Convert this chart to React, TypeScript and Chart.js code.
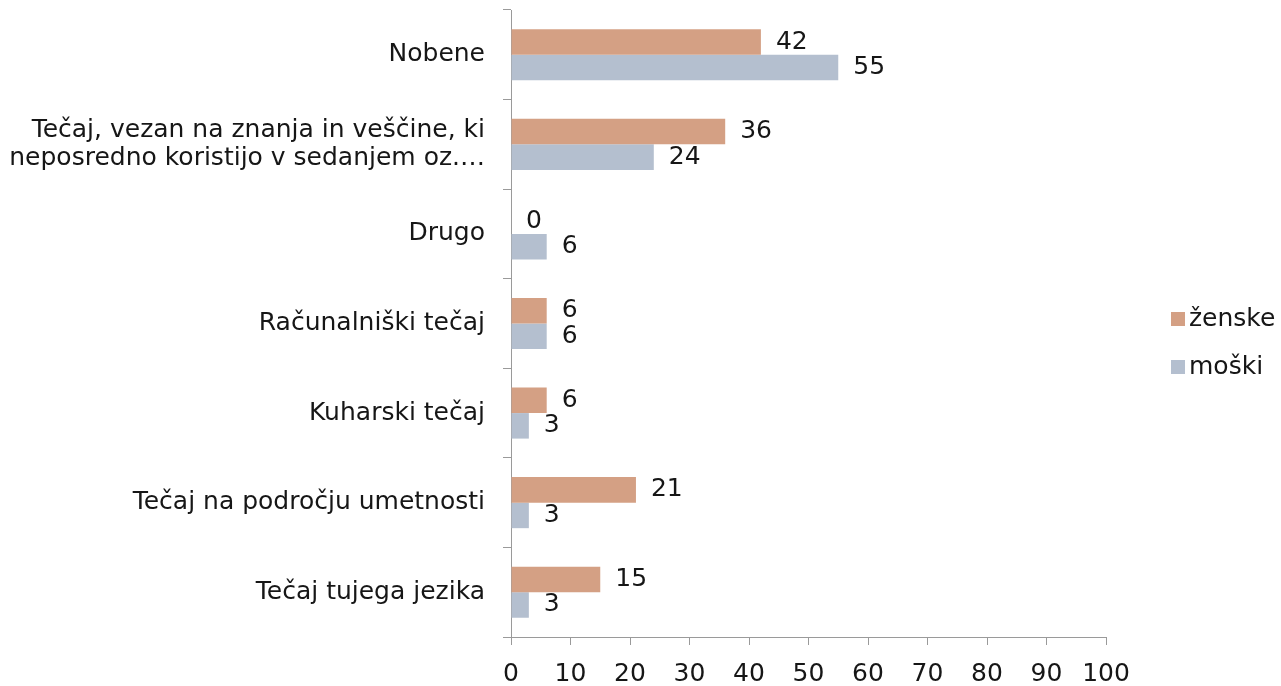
import React, { useEffect, useRef } from "react";
import { Chart, registerables } from "chart.js";

Chart.register(...registerables);

const categories: (string | string[])[] = [
  "Nobene",
  ["Tečaj, vezan na znanja in veščine, ki", "neposredno koristijo v sedanjem oz.…"],
  "Drugo",
  "Računalniški tečaj",
  "Kuharski tečaj",
  "Tečaj na področju umetnosti",
  "Tečaj tujega jezika",
];
const zenske = [42, 36, 0, 6, 6, 21, 15];
const moski = [55, 24, 6, 6, 3, 3, 3];
const seriesNames = ["ženske", "moški"];
const xTicks = [0, 10, 20, 30, 40, 50, 60, 70, 80, 90, 100];

const FONT = "'DejaVu Sans', sans-serif";
const SIZE = 25;
const WEIGHT = "normal";
const TEXT = "#161616";
const AXIS = "#9a9a9a";
const COLORS = ["#D4A084", "#B4BFCF"];

const valueLabels = {
  id: "valueLabels",
  afterDatasetsDraw(chart: any) {
    const ctx = chart.ctx;
    ctx.save();
    ctx.font = `${WEIGHT} ${SIZE}px ${FONT}`;
    ctx.fillStyle = TEXT;
    ctx.textAlign = "left";
    ctx.textBaseline = "middle";
    chart.data.datasets.forEach((ds: any, di: number) => {
      const meta = chart.getDatasetMeta(di);
      meta.data.forEach((bar: any, i: number) => {
        ctx.fillText(String(ds.data[i]), bar.x + 15, bar.y);
      });
    });
    ctx.restore();
  },
};

const sideLegend = {
  id: "sideLegend",
  afterDraw(chart: any) {
    const ctx = chart.ctx;
    ctx.save();
    ctx.font = `${WEIGHT} ${SIZE}px ${FONT}`;
    ctx.textAlign = "left";
    ctx.textBaseline = "middle";
    chart.data.datasets.forEach((ds: any, di: number) => {
      const cy = 319 + di * 48;
      ctx.fillStyle = ds.backgroundColor;
      ctx.fillRect(1171, cy - 7, 14, 14);
      ctx.fillStyle = TEXT;
      ctx.fillText(ds.label, 1189, cy);
    });
    ctx.restore();
  },
};

export default function App() {
  const ref = useRef<HTMLCanvasElement | null>(null);
  useEffect(() => {
    if (!ref.current) return;
    const chart = new Chart(ref.current, {
      type: "bar",
      data: {
        labels: categories,
        datasets: [
          { label: seriesNames[0], data: zenske, backgroundColor: COLORS[0] },
          { label: seriesNames[1], data: moski, backgroundColor: COLORS[1] },
        ],
      },
      options: {
        indexAxis: "y",
        animation: false,
        responsive: true,
        maintainAspectRatio: false,
        layout: { padding: { top: 10, right: 175, left: 0, bottom: 0 } },
        datasets: { bar: { categoryPercentage: 0.57, barPercentage: 1 } },
        plugins: { legend: { display: false }, tooltip: { enabled: false } },
        scales: {
          x: {
            min: 0,
            max: 100,
            afterBuildTicks(scale: any) {
              scale.ticks = xTicks.map((v) => ({ value: v }));
            },
            afterFit(scale: any) {
              scale.height = 49;
              scale.paddingLeft = 0;
              scale.paddingRight = 0;
            },
            grid: {
              drawOnChartArea: false,
              drawTicks: true,
              tickLength: 8,
              color: AXIS,
            },
            border: { color: AXIS, width: 1 },
            ticks: {
              color: TEXT,
              font: { family: FONT, size: SIZE, weight: WEIGHT },
              padding: 14,
              maxRotation: 0,
              autoSkip: false,
            },
          },
          y: {
            afterFit(scale: any) {
              scale.width = 511;
              scale.paddingTop = 0;
              scale.paddingBottom = 0;
            },
            grid: {
              drawOnChartArea: false,
              drawTicks: true,
              tickLength: 8,
              offset: true,
              color: AXIS,
            },
            border: { color: AXIS, width: 1 },
            ticks: {
              color: TEXT,
              font: { family: FONT, size: SIZE, weight: WEIGHT, lineHeight: 1.12 },
              padding: 18,
              autoSkip: false,
            },
          },
        },
      },
      plugins: [valueLabels, sideLegend],
    });
    return () => chart.destroy();
  }, []);
  return (
    <div style={{ position: "absolute", left: 0, top: 0, width: 1281, height: 686, background: "#ffffff" }}>
      <canvas ref={ref} />
    </div>
  );
}
